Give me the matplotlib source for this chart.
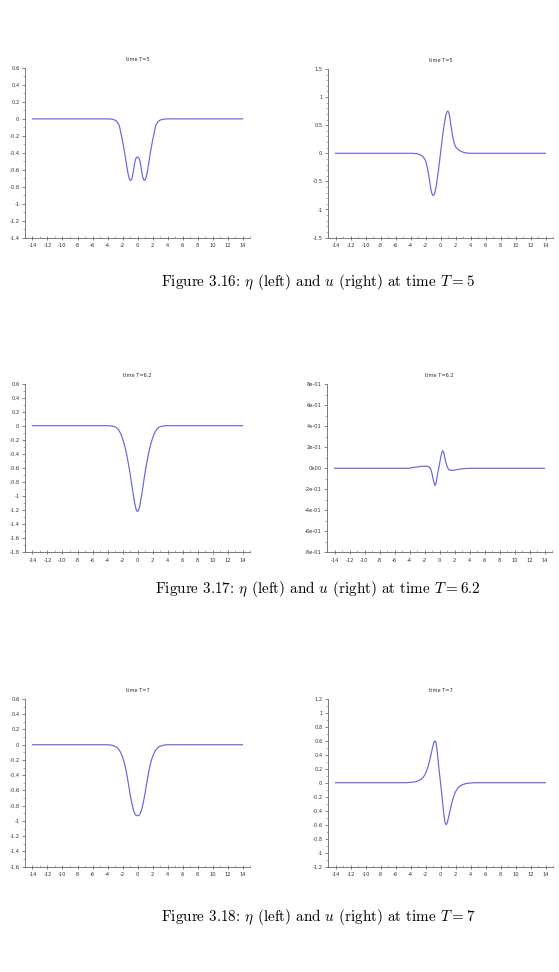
import numpy as np
import matplotlib
matplotlib.use("Agg")
from matplotlib import pyplot as plt
from matplotlib.ticker import MultipleLocator, FixedLocator, FixedFormatter

plt.rcParams['axes.unicode_minus'] = False
plt.rcParams['mathtext.fontset'] = 'cm'

# --- data ---
# eta at T=5 (two dips)
x_eta5 = [-14, -4, -3.5, -3.25, -3, -2.75, -2.5, -2.375, -2.25, -2.125, -2, -1.875, -1.75, -1.625, -1.5,
          -1.375, -1.25, -1.125, -1, -0.9, -0.8, -0.7, -0.6, -0.5, -0.4, -0.3, -0.2, -0.1, 0,
          0.1, 0.2, 0.3, 0.4, 0.5, 0.6, 0.7, 0.8, 0.9, 1, 1.125, 1.25, 1.375,
          1.5, 1.625, 1.75, 1.875, 2, 2.125, 2.25, 2.375, 2.5, 2.75, 3, 3.25, 3.5, 4, 14]
y_eta5 = [0, 0, -0.003, -0.008, -0.015, -0.032, -0.065, -0.1, -0.15, -0.205, -0.26, -0.32, -0.38, -0.45, -0.52,
          -0.59, -0.65, -0.695, -0.72, -0.725, -0.715, -0.685, -0.64, -0.585, -0.53, -0.49, -0.465, -0.452, -0.45,
          -0.452, -0.465, -0.49, -0.53, -0.585, -0.64, -0.685, -0.715, -0.725, -0.72, -0.695, -0.65, -0.59,
          -0.52, -0.45, -0.38, -0.32, -0.26, -0.205, -0.15, -0.1, -0.065, -0.032, -0.015, -0.008, -0.003, 0, 0]

# u at T=5
x_u5 = [-14, -4, -3.5, -3, -2.5, -2.25, -2, -1.875, -1.75, -1.625, -1.5, -1.375, -1.25, -1.125, -1, -0.875,
        -0.75, -0.625, -0.5, -0.375, -0.25, -0.125, 0, 0.125, 0.25, 0.375, 0.5, 0.625, 0.75, 0.875, 1,
        1.125, 1.25, 1.375, 1.5, 1.625, 1.75, 1.875, 2, 2.25, 2.5, 3, 3.5, 4, 14]
y_u5 = [0, 0, -0.003, -0.01, -0.04, -0.075, -0.13, -0.185, -0.26, -0.35, -0.45, -0.56, -0.66, -0.725, -0.75, -0.74,
        -0.70, -0.62, -0.52, -0.40, -0.28, -0.14, 0, 0.14, 0.28, 0.40, 0.52, 0.62, 0.70, 0.74, 0.75,
        0.72, 0.63, 0.51, 0.40, 0.30, 0.22, 0.16, 0.12, 0.08, 0.05, 0.02, 0.005, 0, 0]

# eta at T=6.2
x_eta62 = [-14, -4, -3.5, -3, -2.75, -2.5, -2.25, -2, -1.75, -1.5, -1.25, -1, -0.75, -0.5, -0.375, -0.25, -0.125, 0,
           0.125, 0.25, 0.375, 0.5, 0.75, 1, 1.25, 1.5, 1.75, 2, 2.25, 2.5, 2.75, 3, 3.5, 4, 14]
y_eta62 = [0, 0, -0.003, -0.015, -0.032, -0.06, -0.11, -0.18, -0.27, -0.38, -0.52, -0.67, -0.85, -1.02, -1.1, -1.165, -1.205, -1.22,
           -1.205, -1.165, -1.1, -1.02, -0.85, -0.67, -0.52, -0.38, -0.27, -0.18, -0.11, -0.06, -0.032, -0.015, -0.003, 0, 0]

# u at T=6.2
x_u62 = [-14, -4, -3.8, -3.5, -3, -2.5, -2, -1.5, -1.2, -1, -0.8, -0.6, -0.45, -0.3, -0.1,
         0.1, 0.3, 0.45, 0.6, 0.8, 1, 1.2, 1.5, 2, 2.5, 3, 3.5, 4, 14]
y_u62 = [0, 0, 0.005, 0.008, 0.012, 0.018, 0.02, 0.018, 0.0, -0.05, -0.12, -0.165, -0.14, -0.07, 0.0,
         0.08, 0.15, 0.168, 0.14, 0.07, 0.02, -0.01, -0.02, -0.018, -0.01, -0.005, -0.002, 0, 0]

# eta at T=7
x_eta7 = [-14, -4, -3.5, -3, -2.75, -2.5, -2.25, -2, -1.75, -1.5, -1.25, -1, -0.75, -0.5, -0.375, -0.25, -0.125, 0,
          0.125, 0.25, 0.375, 0.5, 0.75, 1, 1.25, 1.5, 1.75, 2, 2.25, 2.5, 2.75, 3, 3.5, 4, 14]
y_eta7 = [0, 0, -0.005, -0.02, -0.035, -0.06, -0.10, -0.16, -0.24, -0.35, -0.49, -0.64, -0.77, -0.87, -0.9, -0.92, -0.93, -0.93,
          -0.93, -0.92, -0.9, -0.87, -0.77, -0.64, -0.49, -0.35, -0.24, -0.16, -0.10, -0.06, -0.035, -0.02, -0.005, 0, 0]

# u at T=7
x_u7 = [-14, -4.5, -4, -3.5, -3, -2.5, -2.25, -2, -1.75, -1.5, -1.25, -1, -0.875, -0.75, -0.625, -0.5, -0.375, -0.25, -0.125, 0,
        0.125, 0.25, 0.375, 0.5, 0.625, 0.75, 0.875, 1, 1.25, 1.5, 1.75, 2, 2.25, 2.5, 3, 3.5, 4, 4.5, 14]
y_u7 = [0, 0, 0.005, 0.01, 0.025, 0.055, 0.085, 0.13, 0.2, 0.29, 0.41, 0.53, 0.58, 0.60, 0.58, 0.50, 0.38, 0.25, 0.12, 0,
        -0.12, -0.25, -0.38, -0.50, -0.58, -0.60, -0.58, -0.53, -0.41, -0.29, -0.2, -0.13, -0.085, -0.055, -0.025, -0.01, -0.005, 0, 0]

x_ticks = [-14, -12, -10, -8, -6, -4, -2, 0, 2, 4, 6, 8, 10, 12, 14]
u62_ticks = [0.8, 0.6, 0.4, 0.2, 0, -0.2, -0.4, -0.6, -0.8]
u62_labels = ["8e-01", "6e-01", "4e-01", "2e-01", "0e00", "-2e-01", "-4e-01", "-6e-01", "-8e-01"]

titles = ["time T=5", "time T=6.2", "time T=7"]
captions = [r"Figure 3.16: $\eta$ (left) and $u$ (right) at time $T = 5$",
            r"Figure 3.17: $\eta$ (left) and $u$ (right) at time $T = 6.2$",
            r"Figure 3.18: $\eta$ (left) and $u$ (right) at time $T = 7$"]

fig = plt.figure(figsize=(5.59, 9.72), dpi=100)
W, H = 559.0, 972.0

def make_ax(left, top, bottom, right):
    return fig.add_axes([left / W, 1 - bottom / H, (right - left) / W, (bottom - top) / H])

def fmt(v, p):
    if abs(v) < 1e-9:
        return "0"
    s = f"{v:.1f}"
    if s.endswith(".0"):
        s = s[:-2]
    return s

def style(ax, ylim, ystep, yminor, title):
    ax.set_xlim(-15, 15)
    ax.set_ylim(*ylim)
    for s in ["top", "right"]:
        ax.spines[s].set_visible(False)
    for s in ["left", "bottom"]:
        ax.spines[s].set_color("#666666")
        ax.spines[s].set_linewidth(0.6)
    ax.xaxis.set_major_locator(FixedLocator(x_ticks))
    ax.xaxis.set_minor_locator(MultipleLocator(1))
    ax.yaxis.set_major_locator(MultipleLocator(ystep))
    ax.yaxis.set_minor_locator(MultipleLocator(yminor))
    ax.yaxis.set_major_formatter(plt.FuncFormatter(fmt))
    ax.xaxis.set_major_formatter(plt.FuncFormatter(lambda v, p: f"{int(round(v))}"))
    ax.tick_params(axis="x", which="major", direction="inout", length=3, width=0.5,
                   labelsize=3.7, pad=2.5, colors="#555555", labelcolor="#333333")
    ax.tick_params(axis="x", which="minor", direction="in", length=1.5, width=0.4, colors="#777777")
    ax.tick_params(axis="y", which="major", direction="out", length=2.5, width=0.5,
                   labelsize=3.7, pad=1.5, colors="#555555", labelcolor="#333333")
    ax.tick_params(axis="y", which="minor", direction="out", length=1.2, width=0.4, colors="#777777")
    ax.set_title(title, fontsize=3.7, color="#333333", pad=5)

line_kw = dict(color="#6666dd", lw=0.85)

# Row 1: T=5
ax1 = make_ax(25, 68, 237.6, 250)
ax1.plot(x_eta5, y_eta5, **line_kw)
style(ax1, (-1.4, 0.6), 0.2, 0.1, titles[0])

ax2 = make_ax(328, 69, 237.6, 553)
ax2.plot(x_u5, y_u5, **line_kw)
style(ax2, (-1.5, 1.5), 0.5, 0.1, titles[0])

# Row 2: T=6.2
ax3 = make_ax(25, 383.5, 552.3, 250)
ax3.plot(x_eta62, y_eta62, **line_kw)
style(ax3, (-1.8, 0.6), 0.2, 0.1, titles[1])

ax4 = make_ax(327, 384.3, 552.3, 552)
ax4.plot(x_u62, y_u62, **line_kw)
style(ax4, (-0.8, 0.8), 0.2, 0.1, titles[1])
ax4.yaxis.set_major_locator(FixedLocator(u62_ticks))
ax4.yaxis.set_major_formatter(FixedFormatter(u62_labels))

# Row 3: T=7
ax5 = make_ax(25, 699, 866.7, 250)
ax5.plot(x_eta7, y_eta7, **line_kw)
style(ax5, (-1.6, 0.6), 0.2, 0.1, titles[2])

ax6 = make_ax(328, 698.7, 866.7, 553)
ax6.plot(x_u7, y_u7, **line_kw)
style(ax6, (-1.2, 1.2), 0.2, 0.1, titles[2])

for cap, yc in zip(captions, [282, 589, 917]):
    fig.text(318 / W, 1 - yc / H, cap, ha="center", va="center",
             fontsize=10.9, family="cmr10", color="black")

fig.savefig("out.png", dpi=100)
